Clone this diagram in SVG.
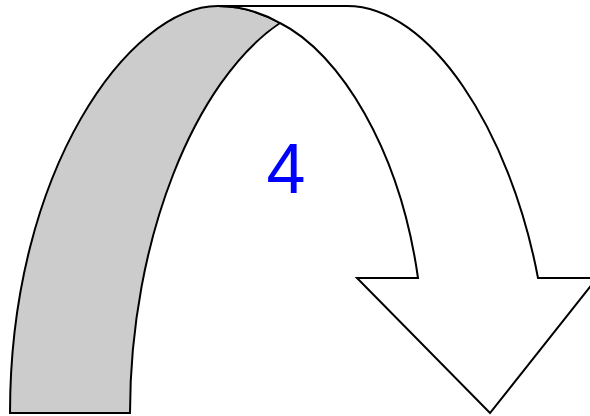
<svg xmlns="http://www.w3.org/2000/svg" width="590" height="416" viewBox="0 0 590 416">
<style>
.band{stroke:#000;stroke-width:2;stroke-linejoin:miter}
.back{fill:#cccccc}
.front{fill:#ffffff}
.lbl{font-family:"Liberation Sans",Arial,sans-serif;font-size:70px;fill:#0000ff}
</style>
<g id="arrow-back">
<path class="band back" d="M10,413 C10,170 130,6 218,6 Q250,6 280,23 C195,80 130,240 130,413 Z"/>
</g>
<g id="arrow-front">
<path class="band front" d="M218,6 L347,6 C430,6 510,130 538,278 L597,278 L490,413 L357,278 L418,278 C400,150 340,53 280,23 Q250,6 218,6 Z"/>
</g>
<g id="label">
<text class="lbl" x="286" y="193" text-anchor="middle">4</text>
</g>
</svg>
